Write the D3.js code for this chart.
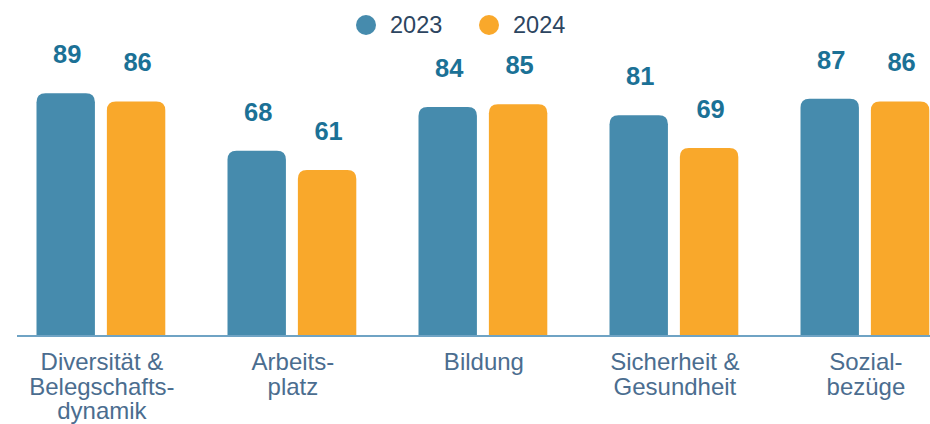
<!DOCTYPE html>
<html><head><meta charset="utf-8">
<script src="https://cdn.jsdelivr.net/npm/d3@7"></script>
<style>
html,body{margin:0;padding:0;background:#fff;}
svg{display:block;font-family:"Liberation Sans",Arial,Helvetica,sans-serif;}
</style></head>
<body><svg id="chart" width="930" height="424"></svg>
<script>
const categories = ["Diversität & Belegschaftsdynamik","Arbeitsplatz","Bildung","Sicherheit & Gesundheit","Sozialbezüge"];
const categoryLines = [["Diversität &","Belegschafts-","dynamik"],["Arbeits-","platz"],["Bildung"],["Sicherheit &","Gesundheit"],["Sozial-","bezüge"]];
const seriesNames = ["2023","2024"];
const values2023 = [89,68,84,81,87];
const values2024 = [86,61,85,69,86];
const colors = ["#468bad","#f9a82b"];

const svg = d3.select("#chart");
const baseY = 337;
const x0 = d3.scaleBand().domain(categories).range([36.5, 929.3]).paddingInner(0.3257).paddingOuter(0);
const x1 = d3.scaleBand().domain(seriesNames).range([0, x0.bandwidth()]).paddingInner(0.17).paddingOuter(0);
const y = d3.scaleLinear().domain([0,100]).range([baseY, baseY-273.9]);

const data = categories.map((c,i)=>({cat:c, vals:[{s:"2023",v:values2023[i]},{s:"2024",v:values2024[i]}]}));

function topRounded(x, yTop, w, h, r){
  r = Math.min(r, w/2, h);
  return `M${x},${yTop+h}V${yTop+r}Q${x},${yTop} ${x+r},${yTop}H${x+w-r}Q${x+w},${yTop} ${x+w},${yTop+r}V${yTop+h}Z`;
}

const g = svg.selectAll("g.grp").data(data).join("g").attr("class","grp")
  .attr("transform", d=>`translate(${x0(d.cat)},0)`);
g.selectAll("path").data(d=>d.vals).join("path")
  .attr("d", d=>topRounded(x1(d.s), y(d.v), x1.bandwidth(), baseY - y(d.v), 9))
  .attr("fill", (d,i)=>colors[i]);
g.selectAll("text").data(d=>d.vals).join("text")
  .attr("x", d=>x1(d.s)+x1.bandwidth()/2+1.5)
  .attr("y", d=>y(d.v)-30)
  .attr("text-anchor","middle")
  .attr("font-size","25.5px").attr("font-weight","bold")
  .attr("fill","#1b7196")
  .text(d=>d.v);

// baseline
svg.append("line").attr("x1",17).attr("x2",930).attr("y1",336).attr("y2",336)
  .attr("stroke","#6fa3c4").attr("stroke-width",2);

// x axis labels
const xAxis = d3.axisBottom(x0).tickSize(0).tickFormat("");
const ax = svg.append("g").attr("transform",`translate(0,${baseY})`).call(xAxis);
ax.select(".domain").remove();
ax.selectAll(".tick").each(function(d,i){
  const t = d3.select(this).append("text")
    .attr("text-anchor","middle").attr("font-size","24px").attr("fill","#4b6d8f")
    .attr("y",33);
  categoryLines[i].forEach((l,j)=>{
    t.append("tspan").attr("x",1).attr("dy", j===0?0:24.5).text(l);
  });
});

// legend
const legendX = [366, 489];
const lg = svg.selectAll("g.leg").data(seriesNames).join("g").attr("class","leg")
  .attr("transform",(d,i)=>`translate(${legendX[i]},25)`);
lg.append("circle").attr("r",10).attr("fill",(d,i)=>colors[i]);
lg.append("text").attr("x",24).attr("y",8.3).attr("font-size","23.5px").attr("fill","#2c4560").text(d=>d);
</script></body></html>
